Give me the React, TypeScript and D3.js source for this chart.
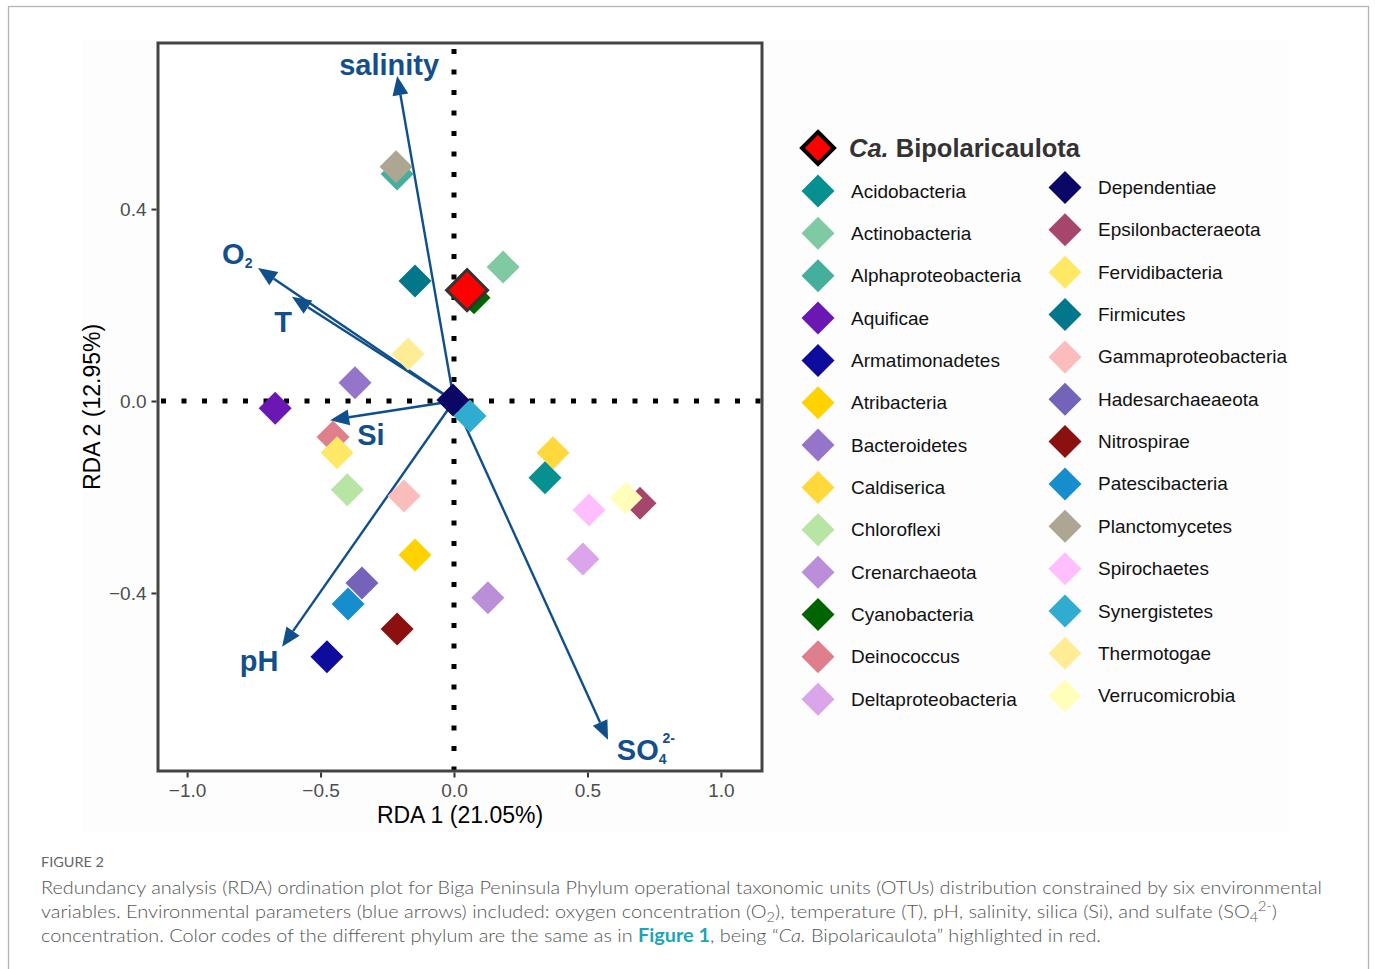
import React, { useEffect, useRef } from 'react';
import * as d3 from 'd3';

// phyla in plotting order (later ones are drawn on top)
const phylaNames = [
    'Alphaproteobacteria', 'Planctomycetes', 'Firmicutes', 'Thermotogae', 'Bacteroidetes', 'Aquificae',
    'Synergistetes', 'Dependentiae', 'Deinococcus', 'Fervidibacteria', 'Chloroflexi', 'Gammaproteobacteria',
    'Atribacteria', 'Hadesarchaeaeota', 'Patescibacteria', 'Nitrospirae', 'Armatimonadetes', 'Caldiserica',
    'Acidobacteria', 'Spirochaetes', 'Epsilonbacteraeota', 'Verrucomicrobia', 'Deltaproteobacteria',
    'Crenarchaeota', 'Actinobacteria', 'Cyanobacteria',
];
const phylaColors = [
    '#45ae9c', '#aca692', '#00778b', '#ffed96', '#9575c9', '#6a17b3',
    '#30acd0', '#0a0766', '#e07f8c', '#ffe866', '#b8e4a4', '#fbbcbc',
    '#ffd200', '#7562b9', '#168dcd', '#8b1010', '#0e0c9c', '#ffd93b',
    '#06908f', '#ffbfff', '#a6466c', '#ffffbb', '#daa5ea',
    '#bb8ed9', '#7fcaa2', '#006400',
];
const rda1 = [
    -0.213, -0.217, -0.146, -0.172, -0.371, -0.670,
    0.060, -0.004, -0.453, -0.438, -0.400, -0.187,
    -0.146, -0.345, -0.397, -0.213, -0.476, 0.371,
    0.341, 0.506, 0.697, 0.644, 0.483,
    0.127, 0.184, 0.075,
];
const rda2 = [
    0.473, 0.488, 0.250, 0.098, 0.038, -0.015,
    -0.031, 0.002, -0.075, -0.108, -0.185, -0.198,
    -0.321, -0.379, -0.423, -0.475, -0.533, -0.108,
    -0.160, -0.227, -0.213, -0.202, -0.329,
    -0.410, 0.279, 0.215,
];

const focalName = 'Bipolaricaulota';
const focalRda1 = 0.049;
const focalRda2 = 0.231;

// environmental vectors
const envNames = ['salinity', 'O', 'T', 'Si', 'pH', 'SO'];
const envSub = ['', '2', '', '', '', '4'];
const envSup = ['', '', '', '', '', '2-'];
const envRda1 = [-0.213, -0.734, -0.607, -0.464, -0.644, 0.577];
const envRda2 = [0.677, 0.277, 0.217, -0.040, -0.512, -0.706];
const envLabelRda1 = [-0.243, -0.812, -0.640, -0.311, -0.730, 0.610];
const envLabelRda2 = [0.700, 0.306, 0.165, -0.071, -0.542, -0.727];

const xTicks = [-1.0, -0.5, 0.0, 0.5, 1.0];
const yTicks = [-0.4, 0.0, 0.4];

const captionLines = [
    'Redundancy analysis (RDA) ordination plot for Biga Peninsula Phylum operational taxonomic units (OTUs) distribution constrained by six environmental',
];

const App: React.FC = () => {
    const ref = useRef<SVGSVGElement>(null);
    const W = 1375;
    const H = 969;
    const box = { left: 158, right: 762, top: 43, bottom: 771 };

    useEffect(() => {
        if (!ref.current) return;
        const svg = d3.select(ref.current);
        svg.selectAll('*').remove();

        // outer figure frame
        svg.append('rect').attr('x', 0).attr('y', 0).attr('width', W).attr('height', H).attr('fill', '#fff');
        svg.append('rect')
            .attr('x', 8.5).attr('y', 6.5).attr('width', 1360).attr('height', 980)
            .attr('fill', '#fff').attr('stroke', '#b4b4b4').attr('stroke-width', 1.3);
        svg.append('rect').attr('x', 82).attr('y', 41).attr('width', 1208).attr('height', 790).attr('fill', '#fdfdfd');

        const x = d3.scaleLinear().domain([-1.109, 1.154]).range([box.left, box.right]);
        const y = d3.scaleLinear().domain([-0.771, 0.746]).range([box.bottom, box.top]);

        const font = "'Liberation Sans', Arial, sans-serif";

        // panel
        svg.append('rect')
            .attr('x', box.left).attr('y', box.top)
            .attr('width', box.right - box.left).attr('height', box.bottom - box.top)
            .attr('fill', '#fff');

        // dotted zero lines
        svg.append('line')
            .attr('x1', x(0)).attr('x2', x(0)).attr('y1', box.top + 2).attr('y2', box.bottom)
            .attr('stroke', '#000').attr('stroke-width', 5).attr('stroke-dasharray', '5 15.5').attr('stroke-dashoffset', -4);
        svg.append('line')
            .attr('x1', box.left + 2).attr('x2', box.right).attr('y1', y(0)).attr('y2', y(0))
            .attr('stroke', '#000').attr('stroke-width', 5).attr('stroke-dasharray', '5 15.5').attr('stroke-dashoffset', -1);

        // arrows
        const arrowColor = '#0f4f8c';
        const headLen = 19;
        const headHalf = 8;
        envNames.forEach((name, i) => {
            const x0 = x(0), y0 = y(0);
            const x1 = x(envRda1[i]), y1 = y(envRda2[i]);
            const ang = Math.atan2(y1 - y0, x1 - x0);
            const bx = x1 - headLen * Math.cos(ang);
            const by = y1 - headLen * Math.sin(ang);
            svg.append('line')
                .attr('x1', x0).attr('y1', y0).attr('x2', bx).attr('y2', by)
                .attr('stroke', arrowColor).attr('stroke-width', 2.4);
            const px = -Math.sin(ang), py = Math.cos(ang);
            svg.append('path')
                .attr('d', `M${x1},${y1}L${bx + px * headHalf},${by + py * headHalf}L${bx - px * headHalf},${by - py * headHalf}Z`)
                .attr('fill', arrowColor);

            const t = svg.append('text')
                .attr('x', x(envLabelRda1[i])).attr('y', y(envLabelRda2[i]))
                .attr('text-anchor', name === 'SO' ? 'start' : 'middle')
                .attr('dominant-baseline', 'central')
                .attr('font-family', font).attr('font-weight', 'bold').attr('font-size', 29)
                .attr('fill', '#124f8c');
            t.append('tspan').text(name);
            if (envSub[i]) t.append('tspan').attr('font-size', 14).attr('dy', 9).text(envSub[i]);
            if (envSup[i]) t.append('tspan').attr('font-size', 14).attr('dx', -4).attr('dy', -21).text(envSup[i]);
        });

        const diamond = (r: number) => `M0,${-r}L${r},0L0,${r}L${-r},0Z`;

        // points
        phylaNames.forEach((name, i) => {
            svg.append('path')
                .attr('d', diamond(16.5))
                .attr('transform', `translate(${x(rda1[i])},${y(rda2[i])})`)
                .attr('fill', phylaColors[i]);
        });
        svg.append('path')
            .attr('d', diamond(20.5))
            .attr('transform', `translate(${x(focalRda1)},${y(focalRda2)})`)
            .attr('fill', '#ff0000').attr('stroke', '#333').attr('stroke-width', 3);

        // panel border
        svg.append('rect')
            .attr('x', box.left).attr('y', box.top)
            .attr('width', box.right - box.left).attr('height', box.bottom - box.top)
            .attr('fill', 'none').attr('stroke', '#444').attr('stroke-width', 3);

        // axes
        const xAxis = svg.append('g')
            .attr('transform', `translate(0,${box.bottom + 1.5})`)
            .call(d3.axisBottom(x).tickValues(xTicks).tickSize(5).tickPadding(6).tickFormat(d3.format('.1f')));
        const yAxis = svg.append('g')
            .attr('transform', `translate(${box.left - 1.5},0)`)
            .call(d3.axisLeft(y).tickValues(yTicks).tickSize(5).tickPadding(5).tickFormat(d3.format('.1f')));
        [xAxis, yAxis].forEach((g) => {
            g.select('.domain').remove();
            g.selectAll('line').attr('stroke', '#333').attr('stroke-width', 2);
            g.selectAll('text').attr('fill', '#4d4d4d').attr('font-size', 19).attr('font-family', font);
        });

        svg.append('text')
            .attr('x', (box.left + box.right) / 2).attr('y', 823)
            .attr('text-anchor', 'middle').attr('font-family', font).attr('font-size', 23).attr('fill', '#000')
            .text('RDA 1 (21.05%)');
        svg.append('text')
            .attr('transform', `translate(100,${(box.top + box.bottom) / 2}) rotate(-90)`)
            .attr('text-anchor', 'middle').attr('font-family', font).attr('font-size', 23).attr('fill', '#000')
            .text('RDA 2 (12.95%)');

        // legend
        const lg = svg.append('g');
        lg.append('path')
            .attr('d', diamond(16))
            .attr('transform', 'translate(818,148)')
            .attr('fill', '#ff0000').attr('stroke', '#000').attr('stroke-width', 4);
        const title = lg.append('text')
            .attr('x', 849).attr('y', 148).attr('dominant-baseline', 'central')
            .attr('font-family', font).attr('font-weight', 'bold').attr('font-size', 25.5).attr('fill', '#333');
        title.append('tspan').attr('font-style', 'italic').text('Ca.');
        title.append('tspan').text(' ' + focalName);

        const order = phylaNames.map((n, i) => i).sort((a, b) => phylaNames[a].localeCompare(phylaNames[b]));
        order.forEach((idx, k) => {
            const col = k < 13 ? 0 : 1;
            const row = k % 13;
            const cx = col === 0 ? 818 : 1065;
            const cy = (col === 0 ? 191 : 187.5) + row * 42.35;
            lg.append('path')
                .attr('d', diamond(16.5))
                .attr('transform', `translate(${cx},${cy})`)
                .attr('fill', phylaColors[idx]);
            lg.append('text')
                .attr('x', cx + 33).attr('y', cy).attr('dominant-baseline', 'central')
                .attr('font-family', font).attr('font-size', 19).attr('fill', '#111')
                .text(phylaNames[idx]);
        });

        // caption
        const capFont = "Lato, 'Open Sans', sans-serif";
        svg.append('text')
            .attr('x', 41).attr('y', 867)
            .attr('font-family', capFont).attr('font-size', 14).attr('fill', '#666')
            .attr('textLength', 63).attr('lengthAdjust', 'spacingAndGlyphs')
            .text('FIGURE 2');

        const cap = (yy: number, len: number) =>
            svg.append('text')
                .attr('x', 41).attr('y', yy)
                .attr('font-family', capFont).attr('font-size', 18).attr('font-weight', 300).attr('fill', '#555')
                .attr('textLength', len).attr('lengthAdjust', 'spacingAndGlyphs');

        cap(894, 1281).text(captionLines[0]);

        const l2 = cap(918, 1236);
        l2.append('tspan').text('variables. Environmental parameters (blue arrows) included: oxygen concentration (O');
        l2.append('tspan').attr('font-size', 13).attr('dy', 4).text('2');
        l2.append('tspan').attr('dy', -4).text('), temperature (T), pH, salinity, silica (Si), and sulfate (SO');
        l2.append('tspan').attr('font-size', 13).attr('dy', 4).text('4');
        l2.append('tspan').attr('font-size', 13).attr('dy', -11).text('2-');
        l2.append('tspan').attr('dy', 7).text(')');

        const l3 = cap(942, 1060);
        l3.append('tspan').text('concentration. Color codes of the different phylum are the same as in ');
        l3.append('tspan').attr('font-weight', 'bold').attr('fill', '#1ba5b8').text('Figure 1');
        l3.append('tspan').text(', being \u201C');
        l3.append('tspan').attr('font-style', 'italic').text('Ca.');
        l3.append('tspan').text(' Bipolaricaulota\u201D highlighted in red.');
    }, []);

    return (
        <svg
            ref={ref}
            width={W}
            height={H}
            viewBox={`0 0 ${W} ${H}`}
            style={{ position: 'absolute', left: 0, top: 0, display: 'block' }}
        />
    );
};

export default App;
